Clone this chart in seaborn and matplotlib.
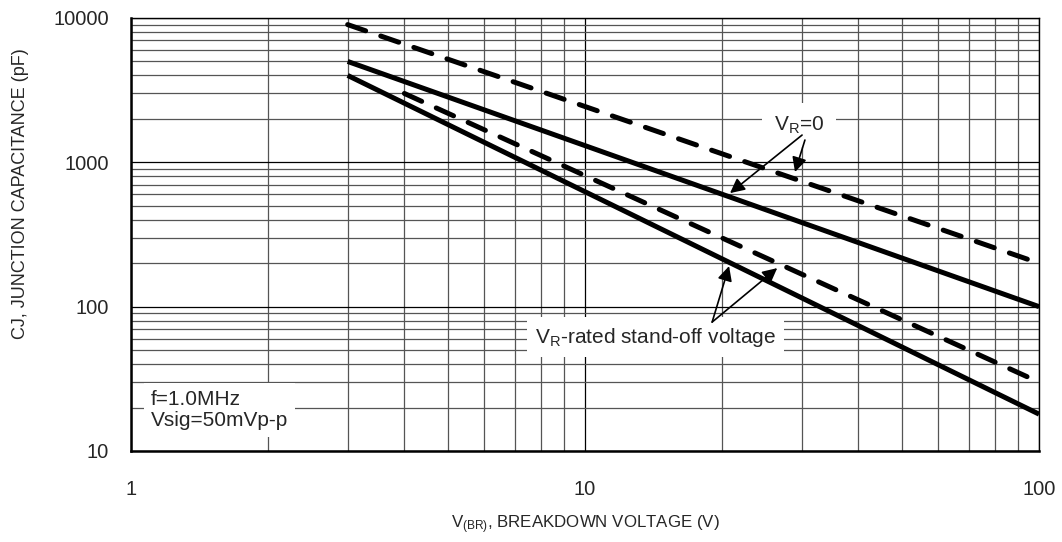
import matplotlib
matplotlib.use("Agg")
import matplotlib.pyplot as plt
import matplotlib.ticker as mticker
import seaborn as sns

# data (log-log straight lines)
vbr_vr0_dash = [3, 100]
cj_vr0_dash = [9000, 200]
vbr_vr0_solid = [3, 100]
cj_vr0_solid = [5000, 100]
vbr_rated_dash = [4, 100]
cj_rated_dash = [3000, 30]
vbr_rated_solid = [3, 100]
cj_rated_solid = [4000, 18]

x_ticks = [1, 10, 100]
y_ticks = [10, 100, 1000, 10000]

sns.set_style("white")
plt.rcParams['font.family'] = ['Liberation Sans', 'DejaVu Sans']
plt.rcParams['mathtext.default'] = 'regular'

fig = plt.figure(figsize=(10.62, 5.42), dpi=100)
ax = fig.add_axes([0.1234, 0.1679, 0.855, 0.7989])

dash = (0, (3.8, 3.2))
sns.lineplot(x=vbr_vr0_dash, y=cj_vr0_dash, ax=ax, color='black', lw=3.6, linestyle=dash, zorder=3)
sns.lineplot(x=vbr_vr0_solid, y=cj_vr0_solid, ax=ax, color='black', lw=3.6, zorder=3)
sns.lineplot(x=vbr_rated_dash, y=cj_rated_dash, ax=ax, color='black', lw=3.6, linestyle=dash, zorder=3)
sns.lineplot(x=vbr_rated_solid, y=cj_rated_solid, ax=ax, color='black', lw=3.6, zorder=3)
for ln in ax.get_lines():
    ln.set_solid_capstyle('butt')
    ln.set_dash_capstyle('round')

ax.set_xscale('log')
ax.set_yscale('log')
ax.set_xlim(1, 100)
ax.set_ylim(10, 10000)

for axis in (ax.xaxis, ax.yaxis):
    axis.set_major_locator(mticker.LogLocator(base=10))
    axis.set_minor_locator(mticker.LogLocator(base=10, subs=range(2, 10)))
    axis.set_major_formatter(mticker.FuncFormatter(lambda v, p: f'{v:g}'))
    axis.set_minor_formatter(mticker.NullFormatter())
ax.set_xticks(x_ticks)
ax.set_yticks(y_ticks)

ax.grid(which='major', color='black', lw=0.9, zorder=0)
ax.grid(which='minor', color='#555555', lw=0.9, zorder=0)
ax.set_axisbelow(True)
ax.tick_params(which='both', length=0, labelsize=14.5)
ax.tick_params(axis='x', pad=21)
ax.tick_params(axis='y', pad=16)

for s in ax.spines.values():
    s.set_color('black')
    s.set_linewidth(1.0)
ax.spines['left'].set_linewidth(1.8)
ax.spines['bottom'].set_linewidth(1.8)

ax.set_xlabel('V$_{(BR)}$, BREAKDOWN VOLTAGE (V)', fontsize=12.2)
ax.set_ylabel('CJ, JUNCTION CAPACITANCE (pF)', fontsize=13)
ax.xaxis.set_label_coords(0.5, -0.145)
ax.yaxis.set_label_coords(-0.112, 0.594)

ax.text(0.022, 0.095, 'f=1.0MHz\nVsig=50mVp-p', transform=ax.transAxes,
        fontsize=15, ha='left', va='center', linespacing=1.15,
        bbox=dict(boxstyle='square,pad=0.34', facecolor='white', edgecolor='none'), zorder=4)
ax.text(29.6, 1814, 'V$_R$=0', fontsize=15, ha='center', va='center',
        bbox=dict(boxstyle='square,pad=0.55', facecolor='white', edgecolor='none'), zorder=4)
ax.text(14.29, 61.5, 'V$_R$-rated stand-off voltage', fontsize=15, ha='center', va='center',
        bbox=dict(boxstyle='square,pad=0.4', facecolor='white', edgecolor='none'), zorder=4)

arrow = dict(arrowstyle='-|>', color='black', lw=1.2, mutation_scale=22,
             shrinkA=0, shrinkB=0)
ax.annotate('', xy=(20.86, 612), xytext=(30.06, 1545), arrowprops=arrow, zorder=5)
ax.annotate('', xy=(29.0, 857), xytext=(30.5, 1427), arrowprops=arrow, zorder=5)
ax.annotate('', xy=(20.76, 191), xytext=(19.05, 78.2), arrowprops=arrow, zorder=5)
ax.annotate('', xy=(26.5, 185), xytext=(19.05, 78.2), arrowprops=arrow, zorder=5)

fig.savefig('out.png', dpi=100)
